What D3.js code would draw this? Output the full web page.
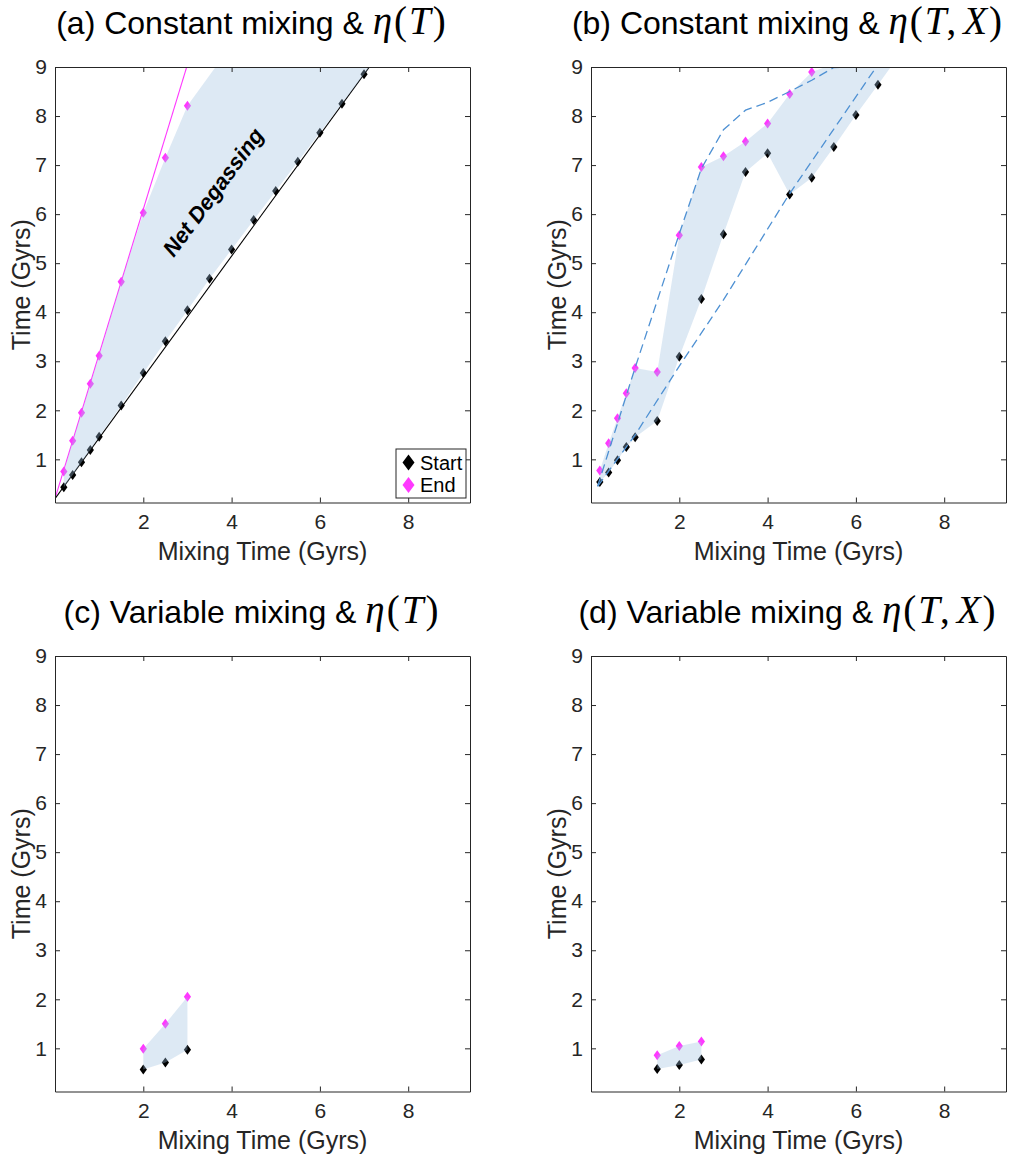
<!DOCTYPE html>
<html lang="en">
<head>
<meta charset="UTF-8">
<script src="https://d3js.org/d3.v7.min.js"></script>
<title>Mixing time panels</title>
<style>
  body { margin: 0; background: #fff; }
  svg text { font-family: "Liberation Sans", Arial, Helvetica, sans-serif; fill: #262626; }
</style>
</head>
<body>
<svg id="svg1" width="1011" height="1155"></svg>
<script>

// shared axes
const xTicks = [2, 4, 6, 8]
const yTicks = [1, 2, 3, 4, 5, 6, 7, 8, 9]
const xDomain = [0, 9.4]
const yDomain = [0.12, 9]

// (a) constant mixing, eta(T)
const mixA   = [0.2, 0.4, 0.6, 0.8, 1, 1.5, 2, 2.5, 3, 3.5, 4, 4.5, 5, 5.5, 6, 6.5, 7, 7.5]
const startA = [0.43, 0.68, 0.94, 1.19, 1.46, 2.10, 2.76, 3.41, 4.04, 4.68, 5.28, 5.88, 6.47, 7.07, 7.66, 8.25, 8.85, 9.47]
const mixEndA = [0.2, 0.4, 0.6, 0.8, 1, 1.5, 2, 2.5, 3, 4]
const endA    = [0.75, 1.38, 1.95, 2.54, 3.11, 4.62, 6.03, 7.15, 8.21, 9.45]
const fitStartA = [0.2, 1.236]   // intercept, slope
const fitEndA   = [0.2, 2.95]

// (b) constant mixing, eta(T,X)
const mixB   = [0.2, 0.4, 0.6, 0.8, 1, 1.5, 2, 2.5, 3, 3.5, 4, 4.5, 5, 5.5, 6, 6.5, 7]
const startB = [0.54, 0.73, 0.98, 1.25, 1.45, 1.78, 3.09, 4.27, 5.59, 6.86, 7.24, 6.40, 6.74, 7.37, 8.02, 8.64, 9.26]
const endB   = [0.77, 1.33, 1.84, 2.35, 2.86, 2.78, 5.57, 6.96, 7.18, 7.48, 7.85, 8.45, 8.90, 9.06, 9.35, 9.7, 10.0]
const envLowX = [0.15, 1.0, 2.0, 3.0, 4.5, 6.5]
const envLowY = [0.45, 1.5, 2.9, 4.25, 6.42, 9.05]
const envUpX  = [0.15, 1.0, 2.0, 2.5, 3.0, 3.5, 4.0, 4.5, 5.0, 5.5, 6.0, 6.5]
const envUpY  = [0.45, 2.87, 5.6, 6.93, 7.72, 8.12, 8.28, 8.5, 8.73, 8.99, 9.0, 9.02]

// (c) variable mixing, eta(T)
const mixC   = [2, 2.5, 3]
const startC = [0.57, 0.71, 0.97]
const endC   = [0.99, 1.5, 2.05]

// (d) variable mixing, eta(T,X)
const mixD   = [1.5, 2, 2.5]
const startD = [0.58, 0.66, 0.77]
const endD   = [0.86, 1.05, 1.14]

const W = 415, H = 435.5
const magenta = "#ff38ff"
const shade = "rgb(158,192,224)"
const dashBlue = "#4f91d3"

let svg = d3.select("#svg1")

let panels = [
    {key: "a", left: 55,  top: 67,  label: "(a) Constant mixing & ", math: "T",
     mixS: mixA, start: startA, mixE: mixEndA, end: endA, fits: true, legend: true},
    {key: "b", left: 591, top: 67,  label: "(b) Constant mixing & ", math: "T,X",
     mixS: mixB, start: startB, mixE: mixB, end: endB, envelope: true},
    {key: "c", left: 55,  top: 656, label: "(c) Variable mixing & ", math: "T",
     mixS: mixC, start: startC, mixE: mixC, end: endC},
    {key: "d", left: 591, top: 656, label: "(d) Variable mixing & ", math: "T,X",
     mixS: mixD, start: startD, mixE: mixD, end: endD}
]

function diamond(w, h) { return `M0,${-h}L${w},0L0,${h}L${-w},0Z` }

panels.forEach(p => drawPanel(p))

function drawPanel(p) {
    let x = d3.scaleLinear().domain(xDomain).range([0, W])
    let y = d3.scaleLinear().domain(yDomain).range([H, 0])
    let g = svg.append("g").attr("transform", `translate(${p.left},${p.top})`)

    g.append("clipPath").attr("id", "clip" + p.key)
        .append("rect").attr("width", W).attr("height", H)
    let plot = g.append("g").attr("clip-path", `url(#clip${p.key})`)

    // fitted lines
    if (p.fits) {
        [[fitEndA, magenta], [fitStartA, "#000"]].forEach(([f, col]) => {
            let x1 = (yDomain[1] + 1 - f[0]) / f[1]
            plot.append("line")
                .attr("x1", x(0)).attr("y1", y(f[0]))
                .attr("x2", x(x1)).attr("y2", y(yDomain[1] + 1))
                .attr("stroke", col).attr("stroke-width", 1.1)
        })
    }

    // markers
    let sPts = p.mixS.map((m, i) => [m, p.start[i]])
    let ePts = p.mixE.map((m, i) => [m, p.end[i]])
    plot.selectAll(".ms").data(sPts.filter(d => d[1] <= 9)).enter().append("path")
        .attr("d", diamond(3.6, 5))
        .attr("transform", d => `translate(${x(d[0])},${y(d[1])})`)
        .attr("fill", "#000")
    plot.selectAll(".me").data(ePts.filter(d => d[1] <= 9)).enter().append("path")
        .attr("d", diamond(3.6, 5))
        .attr("transform", d => `translate(${x(d[0])},${y(d[1])})`)
        .attr("fill", magenta)

    // shaded region between start and end, drawn over the markers
    let poly = sPts.concat(ePts.slice().reverse())
    plot.append("path")
        .attr("d", d3.line().x(d => x(d[0])).y(d => y(d[1]))(poly) + "Z")
        .attr("fill", shade).attr("fill-opacity", 0.35)

    // envelope dashed lines
    if (p.envelope) {
        [[envLowX, envLowY], [envUpX, envUpY]].forEach(([ex, ey]) => {
            plot.append("path")
                .attr("d", d3.line().x(d => x(d[0])).y(d => y(d[1]))(ex.map((v, i) => [v, ey[i]])))
                .attr("fill", "none").attr("stroke", dashBlue)
                .attr("stroke-width", 1.3).attr("stroke-dasharray", "9,5")
        })
    }

    if (p.fits) {
        g.append("text")
            .attr("transform", `translate(${x(3.58)},${y(6.45)}) rotate(-53.5)`)
            .attr("text-anchor", "middle").attr("dy", "0.35em")
            .style("font-size", "22px").style("font-weight", "bold").style("font-style", "italic")
            .style("fill", "#000")
            .text("Net Degassing")
    }

    // axes, MATLAB-like box with inward ticks
    let axes = [
        [d3.axisBottom(x).tickValues(xTicks).tickFormat(d3.format("d")).tickPadding(12), `translate(0,${H})`],
        [d3.axisLeft(y).tickValues(yTicks).tickFormat(d3.format("d")).tickPadding(8), null],
        [d3.axisTop(x).tickValues(xTicks).tickFormat(""), null],
        [d3.axisRight(y).tickValues(yTicks).tickFormat(""), `translate(${W},0)`]
    ]
    axes.forEach(([ax, tr]) => {
        let a = g.append("g").call(ax.tickSizeInner(-5).tickSizeOuter(0))
        if (tr) a.attr("transform", tr)
        a.selectAll("path, line").attr("stroke", "#262626").attr("stroke-width", 1)
        a.selectAll("text").style("font-size", "21px").style("fill", "#262626")
            .attr("font-family", null)
    })

    g.append("text")
        .attr("x", W / 2).attr("y", H + 57)
        .attr("text-anchor", "middle").style("font-size", "25px")
        .text("Mixing Time (Gyrs)")
    g.append("text")
        .attr("transform", `translate(-25,${H / 2}) rotate(-90)`)
        .attr("text-anchor", "middle").style("font-size", "25px")
        .text("Time (Gyrs)")

    // title with math part
    let t = g.append("text")
        .attr("x", 197).attr("y", -33.5)
        .attr("text-anchor", "middle").style("font-size", "32px").style("fill", "#000")
    t.append("tspan").text(p.label)
    let serif = "'Liberation Serif', 'Times New Roman', serif"
    let mathTs = () => t.append("tspan").style("font-family", serif).style("font-size", "39px")
        .style("letter-spacing", "2px")
    mathTs().style("font-style", "italic").text("η")
    mathTs().text("(")
    p.math.split(",").forEach((s, i) => {
        if (i > 0) mathTs().text(",").attr("dx", -2)
        mathTs().style("font-style", "italic").attr("dx", i > 0 ? 5 : 0).text(s)
    })
    mathTs().text(")")

    // legend
    if (p.legend) {
        let lg = g.append("g").attr("transform", `translate(${W - 74},${H - 53.5})`)
        lg.append("rect").attr("width", 70).attr("height", 49)
            .attr("fill", "#fff").attr("stroke", "#262626").attr("stroke-width", 1)
        let items = [["Start", "#000"], ["End", magenta]]
        items.forEach(([name, col], i) => {
            lg.append("path").attr("d", diamond(6, 8))
                .attr("transform", `translate(12.5,${13.5 + i * 22.5})`).attr("fill", col)
            lg.append("text").attr("x", 24).attr("y", 13.5 + i * 22.5).attr("dy", "0.36em")
                .style("font-size", "20px").style("fill", "#000").text(name)
        })
    }
}

</script>
</body>
</html>
